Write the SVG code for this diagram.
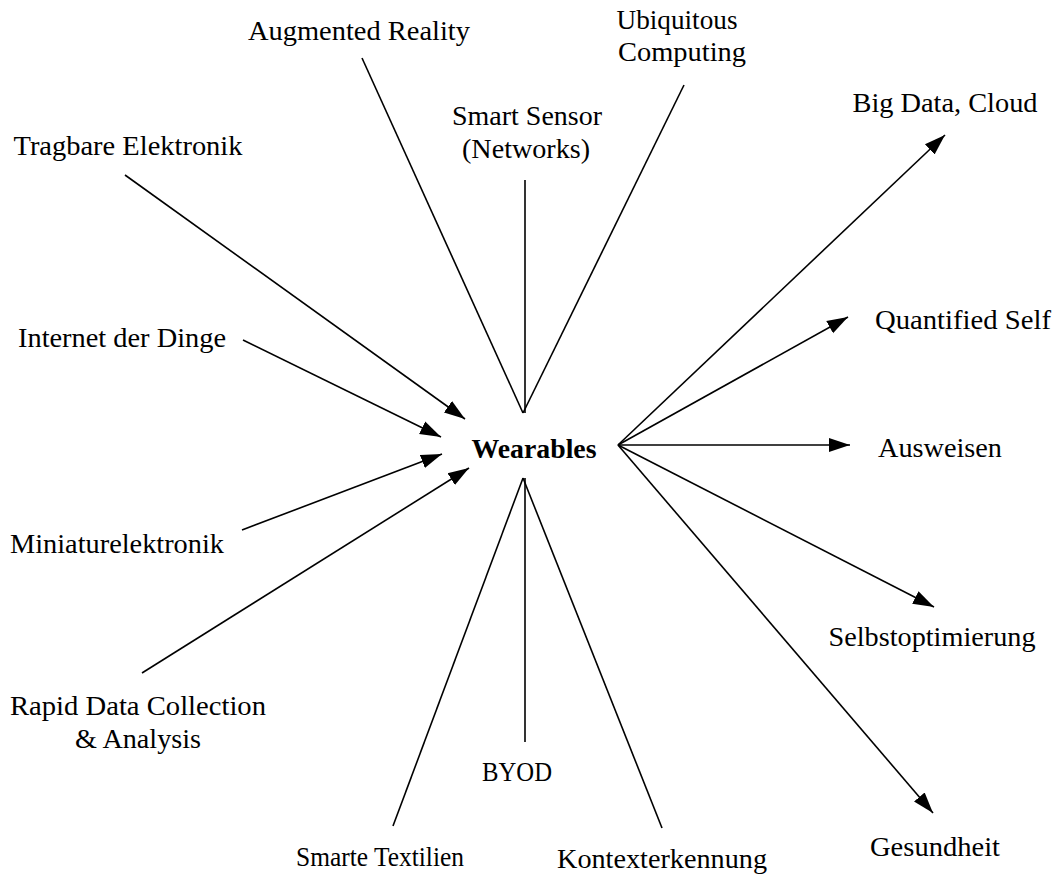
<svg xmlns="http://www.w3.org/2000/svg" width="1063" height="877" viewBox="0 0 1063 877">
<defs>
<style>
.t{font-family:"Liberation Serif","Times New Roman",serif;font-size:28px;fill:#000;text-anchor:middle}
.b{font-weight:bold}
.c line{stroke:#000;stroke-width:1.6;fill:none}
.a{marker-end:url(#ah)}
</style>
<marker id="ah" markerUnits="userSpaceOnUse" markerWidth="22" markerHeight="16" refX="21" refY="8" orient="auto" viewBox="0 0 22 16">
<path d="M0,1 L21,8 L0,15 z" fill="#000"/>
</marker>
</defs>
<rect width="1063" height="877" fill="#fff"/>
<g id="connectors" class="c">
<line x1="362" y1="58" x2="523" y2="413"/>
<line x1="525" y1="180" x2="525" y2="413"/>
<line x1="684" y1="85" x2="523" y2="413"/>
<line class="a" x1="125" y1="175" x2="465" y2="419"/>
<line class="a" x1="243" y1="340" x2="441" y2="437"/>
<line class="a" x1="242" y1="530" x2="442" y2="454"/>
<line class="a" x1="142" y1="673" x2="469" y2="468"/>
<line class="a" x1="618" y1="445" x2="945" y2="135"/>
<line class="a" x1="618" y1="445" x2="848" y2="317"/>
<line class="a" x1="618" y1="445" x2="850" y2="445"/>
<line class="a" x1="618" y1="445" x2="934" y2="607"/>
<line class="a" x1="618" y1="445" x2="933" y2="813"/>
<line x1="523" y1="478" x2="393" y2="826"/>
<line x1="525" y1="478" x2="525" y2="742"/>
<line x1="523" y1="478" x2="662" y2="828"/>
</g>
<g id="wearables"><text class="t b" x="534" y="458" textLength="125" lengthAdjust="spacingAndGlyphs">Wearables</text></g>
<g id="augmented-reality"><text class="t" x="359" y="40" textLength="222" lengthAdjust="spacingAndGlyphs">Augmented Reality</text></g>
<g id="ubiquitous-computing"><text class="t" x="677" y="29" textLength="121" lengthAdjust="spacingAndGlyphs">Ubiquitous</text><text class="t" x="682" y="61" textLength="128" lengthAdjust="spacingAndGlyphs">Computing</text></g>
<g id="smart-sensor"><text class="t" x="527" y="125" textLength="150" lengthAdjust="spacingAndGlyphs">Smart Sensor</text><text class="t" x="526" y="158" textLength="128" lengthAdjust="spacingAndGlyphs">(Networks)</text></g>
<g id="tragbare-elektronik"><text class="t" x="128" y="155" textLength="229" lengthAdjust="spacingAndGlyphs">Tragbare Elektronik</text></g>
<g id="big-data-cloud"><text class="t" x="945" y="112" textLength="185" lengthAdjust="spacingAndGlyphs">Big Data, Cloud</text></g>
<g id="internet-der-dinge"><text class="t" x="122" y="347" textLength="208" lengthAdjust="spacingAndGlyphs">Internet der Dinge</text></g>
<g id="quantified-self"><text class="t" x="963" y="329" textLength="176" lengthAdjust="spacingAndGlyphs">Quantified Self</text></g>
<g id="ausweisen"><text class="t" x="940" y="457" textLength="124" lengthAdjust="spacingAndGlyphs">Ausweisen</text></g>
<g id="miniaturelektronik"><text class="t" x="117" y="553" textLength="214" lengthAdjust="spacingAndGlyphs">Miniaturelektronik</text></g>
<g id="selbstoptimierung"><text class="t" x="932" y="646" textLength="207" lengthAdjust="spacingAndGlyphs">Selbstoptimierung</text></g>
<g id="rapid-data"><text class="t" x="138" y="715" textLength="256" lengthAdjust="spacingAndGlyphs">Rapid Data Collection</text><text class="t" x="138" y="748" textLength="126" lengthAdjust="spacingAndGlyphs">&amp; Analysis</text></g>
<g id="byod"><text class="t" x="517" y="781" textLength="70" lengthAdjust="spacingAndGlyphs">BYOD</text></g>
<g id="smarte-textilien"><text class="t" x="380" y="866" textLength="168" lengthAdjust="spacingAndGlyphs">Smarte Textilien</text></g>
<g id="kontexterkennung"><text class="t" x="662" y="868" textLength="210" lengthAdjust="spacingAndGlyphs">Kontexterkennung</text></g>
<g id="gesundheit"><text class="t" x="935" y="856" textLength="130" lengthAdjust="spacingAndGlyphs">Gesundheit</text></g>
</svg>
